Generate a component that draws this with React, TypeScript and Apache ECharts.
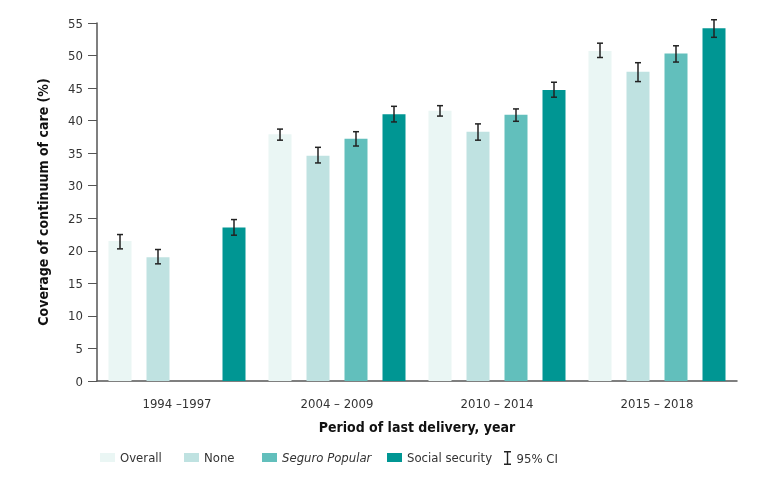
import React, { useEffect, useRef } from "react";
import * as echarts from "echarts";

const categories = ["1994 –1997", "2004 – 2009", "2010 – 2014", "2015 – 2018"];
const seriesNames = ["Overall", "None", "Seguro Popular", "Social security"];
const overall = [21.5, 37.9, 41.5, 50.7];
const none = [19.0, 34.6, 38.3, 47.5];
const seguroPopular: (number | null)[] = [null, 37.2, 40.9, 50.3];
const socialSecurity = [23.6, 41.0, 44.7, 54.2];
const overallCI = [[20.3, 22.5], [37.0, 38.7], [40.7, 42.3], [49.7, 51.9]];
const noneCI = [[18.0, 20.2], [33.5, 35.9], [37.0, 39.5], [46.0, 48.9]];
const seguroCI: (number[] | null)[] = [null, [36.1, 38.3], [39.9, 41.8], [49.0, 51.5]];
const socialCI = [[22.4, 24.8], [39.8, 42.2], [43.6, 45.9], [52.8, 55.5]];
const yTicks = { min: 0, max: 55, interval: 5 };
const ciLabel = "95% CI";

const colors = ["#eaf6f4", "#bfe2e1", "#62bfbc", "#009693"];
const legendLefts = [95, 179, 257, 382];
const FONT = "'Liberation Sans Narrow', 'DejaVu Sans Condensed', sans-serif";
const BAR_W = 23;
const GAP = 15;

export default function App() {
  const ref = useRef<HTMLDivElement>(null);
  useEffect(() => {
    if (!ref.current) return;
    const chart = echarts.init(ref.current, undefined, { renderer: "svg" });
    const allValues = [overall, none, seguroPopular, socialSecurity];
    const allCI = [overallCI, noneCI, seguroCI, socialCI];
    const errData: any[] = [];
    allCI.forEach((arr, s) => {
      arr.forEach((ci, c) => {
        if (ci) errData.push([c, ci[0], ci[1], s]);
      });
    });
    const pitch = BAR_W + GAP;
    const legendText = {
      fontFamily: FONT,
      fontSize: 13,
      color: "#333",
      rich: { i: { fontFamily: FONT, fontSize: 13, color: "#333", fontStyle: "italic" } },
    };
    const option: any = {
      animation: false,
      textStyle: { fontFamily: FONT },
      grid: { left: 97, right: 34, top: 23, bottom: 110 },
      legend: [
        ...seriesNames.map((n, i) => ({
          data: [n],
          left: legendLefts[i],
          top: 446,
          itemWidth: 15,
          itemHeight: 9,
          itemGap: 6,
          icon: "rect",
          textStyle: legendText,
          formatter: (name: string) => (name === "Seguro Popular" ? "{i|Seguro Popular}" : name),
          selectedMode: false,
        })),
        {
          data: [{ name: ciLabel, icon: "path://M0,0H7V1.4H4.2V12.6H7V14H0V12.6H2.8V1.4H0Z", itemStyle: { color: "#222" } }],
          left: 499,
          top: 446,
          itemWidth: 8,
          itemHeight: 14,
          textStyle: legendText,
          selectedMode: false,
        },
      ],
      xAxis: {
        type: "category",
        data: categories,
        name: "Period of last delivery, year",
        nameLocation: "middle",
        nameGap: 39,
        nameTextStyle: { fontFamily: FONT, fontSize: 14, fontWeight: "bold", color: "#111" },
        axisLine: { lineStyle: { color: "#555", width: 1.5 } },
        axisTick: { length: 8, lineStyle: { color: "#333" } },
        axisLabel: { fontFamily: FONT, fontSize: 13, color: "#333", margin: 16 },
      },
      yAxis: {
        type: "value",
        min: yTicks.min,
        max: yTicks.max,
        interval: yTicks.interval,
        name: "Coverage of continuum of care (%)",
        nameLocation: "middle",
        nameGap: 47,
        nameTextStyle: { fontFamily: FONT, fontSize: 14, fontWeight: "bold", color: "#111" },
        axisLine: { show: true, lineStyle: { color: "#555", width: 1.5 } },
        axisTick: { show: true, length: 9, lineStyle: { color: "#555" } },
        axisLabel: { fontFamily: FONT, fontSize: 13, color: "#333", margin: 14 },
        splitLine: { show: false },
      },
      series: [
        ...seriesNames.map((name, i) => ({
          name,
          type: "bar",
          data: allValues[i].map((v) => (v == null ? "-" : v)),
          barWidth: BAR_W,
          barGap: (GAP / BAR_W) * 100 + "%",
          itemStyle: { color: colors[i] },
        })),
        {
          name: ciLabel,
          type: "custom",
          data: errData,
          itemStyle: { color: "#222" },
          z: 10,
          renderItem: (params: any, api: any) => {
            const c = api.value(0);
            const s = api.value(3);
            const lo = api.coord([c, api.value(1)]);
            const hi = api.coord([c, api.value(2)]);
            const x = lo[0] + (s - 1.5) * pitch;
            const hw = 3;
            const st = { stroke: "#222", lineWidth: 1.5 };
            return {
              type: "group",
              children: [
                { type: "line", shape: { x1: x, y1: hi[1], x2: x, y2: lo[1] }, style: st },
                { type: "line", shape: { x1: x - hw, y1: hi[1], x2: x + hw, y2: hi[1] }, style: st },
                { type: "line", shape: { x1: x - hw, y1: lo[1], x2: x + hw, y2: lo[1] }, style: st },
              ],
            };
          },
        },
      ],
    };
    chart.setOption(option);
    return () => chart.dispose();
  }, []);
  return <div ref={ref} style={{ position: "fixed", left: 0, top: 0, width: 771, height: 491 }} />;
}
